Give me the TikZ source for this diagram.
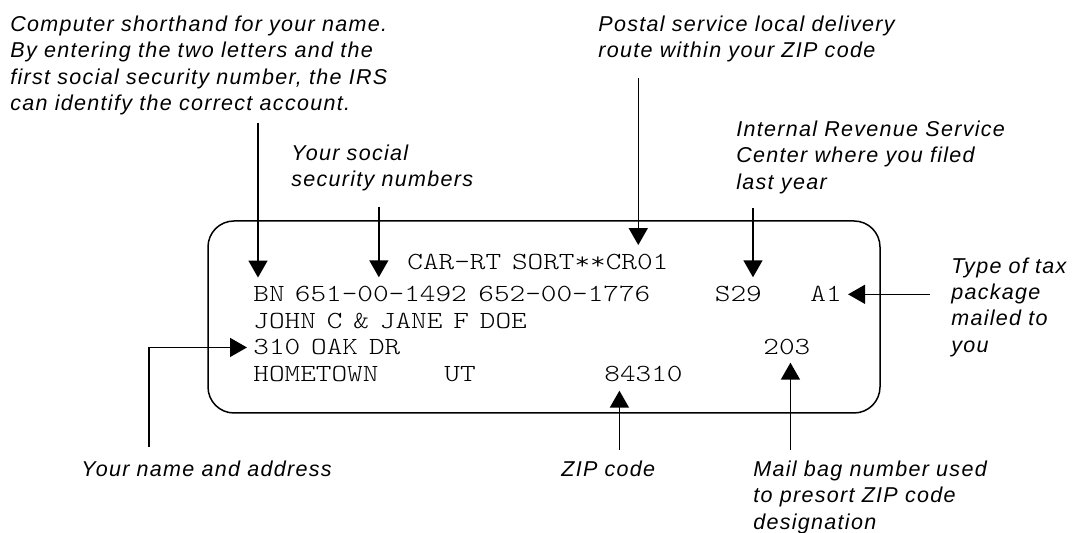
\documentclass[tikz,border=0pt]{standalone}
\usepackage{fontspec}
\usepackage{tikz, xcolor}
\usetikzlibrary{arrows.meta}

\newfontfamily\addrfamily{lmmonolt10-regular.otf}[FakeStretch=1.21, WordSpace=0.7]
\newfontfamily\notefamily[LetterSpace=6]{Liberation Sans}
\newcommand{\addrfont}{\addrfamily\fontsize{12.3}{15}\selectfont}
\newcommand{\notefont}{\notefamily\itshape\fontsize{10.75}{13.15}\selectfont}

\tikzset{
  note/.style={font=\notefont, anchor=base west, inner sep=0pt, align=left},
  addr/.style={font=\addrfont, anchor=base west, inner sep=0pt},
  pointer/.style={-{Triangle[length=8.5pt,width=9.5pt]}, line width=0.75pt},
}

\begin{document}
\begin{tikzpicture}[x=0.5pt, y=-0.5pt]
    \useasboundingbox (0, 0) rectangle (1072, 533);

    % the address label
    \draw [line width=0.75pt, rounded corners=13pt] (208, 221) rectangle (880, 413);

    \node [addr] (sortline) at (407, 270) {CAR-RT SORT**CR01};
    \node [addr] (bn) at (253, 302) {BN};
    \node [addr] (ssnA) at (294.5, 302) {651-00-1492};
    \node [addr] (ssnB) at (478, 302) {652-00-1776};
    \node [addr] (center) at (714.5, 302) {S29};
    \node [addr] (pkg) at (810, 302) {A1};
    \node [addr] (names) at (253, 328.5) {JOHN C \& JANE F DOE};
    \node [addr] (street) at (253, 355) {310 OAK DR};
    \node [addr] (bag) at (763, 355) {203};
    \node [addr] (town) at (253, 382) {HOMETOWN};
    \node [addr] (state) at (444, 382) {UT};
    \node [addr] (zip) at (604, 382) {84310};

    % notes round it (placed at the baseline of their last line)
    \node [note] (shorthand) at (10, 110.6) {Computer shorthand for your name.\\By entering the two letters and the\\first social security number, the IRS\\can identify the correct account.};
    \node [note] (social) at (291, 187) {Your social\\security numbers};
    \node [note] (postal) at (598, 58) {Postal service local delivery\\route within your ZIP code};
    \node [note] (irs) at (736, 189.1) {Internal Revenue Service\\Center where you filed\\last year};
    \node [note] (taxtype) at (951, 352.2) {Type of tax\\package\\mailed to\\you};
    \node [note] (addrlabel) at (81, 476.7) {Your name and address};
    \node [note] (ziplabel) at (561, 476.7) {ZIP code};
    \node [note] (baglabel) at (753, 529.3) {Mail bag number used\\to presort ZIP code\\designation};

    \coordinate (bntip) at ([xshift=2.5pt, yshift=4.5pt]bn.north west);
    \coordinate (ssntip) at ([xshift=-1pt, yshift=4.5pt]ssnA.north);
    \coordinate (sorttip) at ([xshift=-15.25pt, yshift=4.6pt]sortline.north east);
    \coordinate (centertip) at ([xshift=-4.6pt, yshift=4.5pt]center.north east);
    \coordinate (ziptip) at ([xshift=7.7pt, yshift=-4pt]zip.south west);
    \coordinate (bagtip) at ([xshift=1.8pt, yshift=-3.5pt]bag.south);

    \draw [pointer] ([yshift=-4pt]shorthand.south -| bntip) to (bntip);
    \draw [pointer] ([yshift=-7.4pt]social.south -| ssntip) to (ssntip);
    \draw [pointer] ([yshift=-7.8pt]postal.south -| sorttip) to (sorttip);
    \draw [pointer] ([yshift=-7.2pt]irs.south -| centertip) to (centertip);
    \draw [pointer] ([xshift=-10.5pt]taxtype.west |- pkg.east) to ([xshift=3pt]pkg.east);
    \draw [pointer] ([xshift=34pt, yshift=7pt]addrlabel.north west) |- ([xshift=-3pt]street.west);
    \draw [pointer] ([yshift=5.5pt]ziplabel.north -| ziptip) to (ziptip);
    \draw [pointer] ([yshift=5.5pt]baglabel.north -| bagtip) to (bagtip);

  \end{tikzpicture}
\end{document}
